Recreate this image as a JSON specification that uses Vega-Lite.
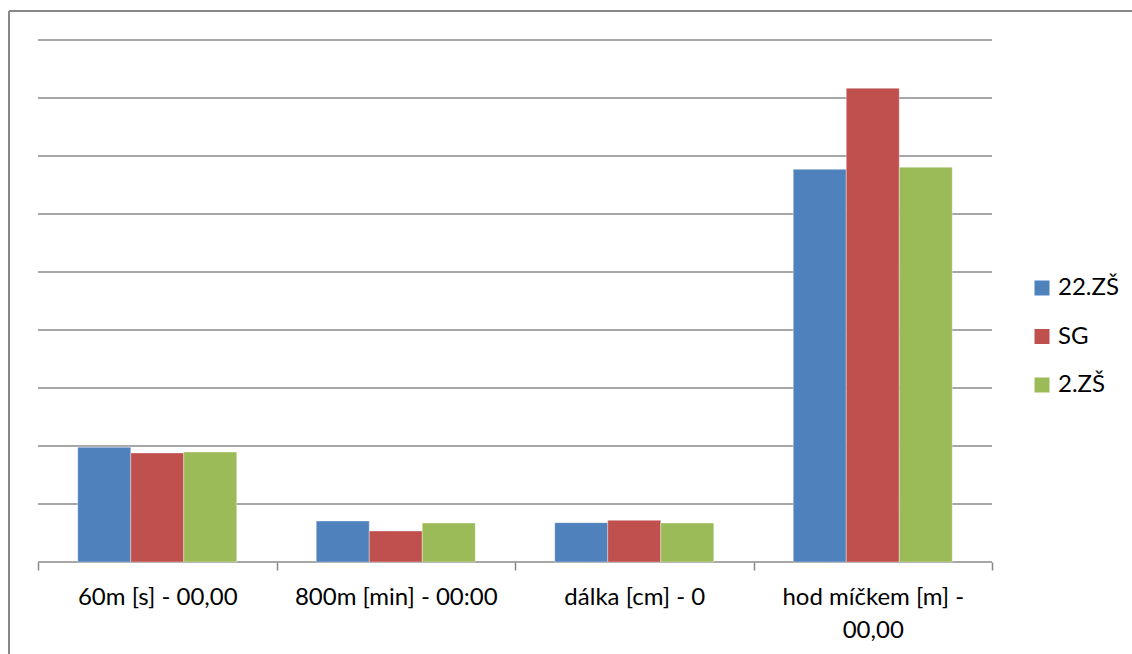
{
  "$schema": "https://vega.github.io/schema/vega-lite/v6.json",
  "width": 1123,
  "height": 643,
  "autosize": {"type": "none"},
  "padding": {"left": 9, "top": 11, "right": 0, "bottom": 0},
  "background": "white",
  "config": {
    "font": "Lato",
    "view": {"stroke": null},
    "axisY": {"disable": true}
  },
  "datasets": {
    "grid": [
      {"level": 0}, {"level": 5}, {"level": 10}, {"level": 15}, {"level": 20},
      {"level": 25}, {"level": 30}, {"level": 35}, {"level": 40}, {"level": 45}
    ],
    "scores": [
      {"test": "60m [s] - 00,00", "school": "22.ZŠ", "value": 9.9},
      {"test": "60m [s] - 00,00", "school": "SG", "value": 9.4},
      {"test": "60m [s] - 00,00", "school": "2.ZŠ", "value": 9.48},
      {"test": "800m [min] - 00:00", "school": "22.ZŠ", "value": 3.53},
      {"test": "800m [min] - 00:00", "school": "SG", "value": 2.67},
      {"test": "800m [min] - 00:00", "school": "2.ZŠ", "value": 3.36},
      {"test": "dálka [cm] - 0", "school": "22.ZŠ", "value": 3.39},
      {"test": "dálka [cm] - 0", "school": "SG", "value": 3.59},
      {"test": "dálka [cm] - 0", "school": "2.ZŠ", "value": 3.36},
      {"test": "hod míčkem [m] - 00,00", "school": "22.ZŠ", "value": 33.85},
      {"test": "hod míčkem [m] - 00,00", "school": "SG", "value": 40.84},
      {"test": "hod míčkem [m] - 00,00", "school": "2.ZŠ", "value": 34.03}
    ]
  },
  "layer": [
    {
      "description": "chart frame, top edge",
      "data": {"values": [{}]},
      "mark": {"type": "rule", "color": "#878787", "strokeWidth": 2},
      "encoding": {
        "x": {"datum": 0, "type": "quantitative", "scale": {"domain": [0, 1], "range": [0, 1123], "nice": false, "zero": false}, "axis": null},
        "x2": {"datum": 1},
        "y": {"datum": 1, "type": "quantitative", "scale": {"domain": [0, 1], "range": [643, 0], "nice": false, "zero": false}, "axis": null}
      }
    },
    {
      "description": "chart frame, left edge",
      "data": {"values": [{}]},
      "mark": {"type": "rule", "color": "#878787", "strokeWidth": 2},
      "encoding": {
        "x": {"datum": 0, "type": "quantitative", "scale": {"domain": [0, 1], "range": [0, 1123], "nice": false, "zero": false}, "axis": null},
        "x2": {"datum": 0},
        "y": {"datum": 0, "type": "quantitative", "scale": {"domain": [0, 1], "range": [643, 0], "nice": false, "zero": false}, "axis": null},
        "y2": {"datum": 1}
      }
    },
    {
      "data": {"name": "grid"},
      "mark": {"type": "rule", "color": "#8a8a8a", "strokeWidth": 1.5},
      "encoding": {
        "y": {
          "field": "level",
          "type": "quantitative",
          "scale": {"domain": [0, 45], "range": [551, 29]},
          "axis": null
        },
        "x": {
          "datum": 0,
          "type": "quantitative",
          "scale": {"domain": [0, 1], "range": [29, 983], "nice": false, "zero": false},
          "axis": null
        },
        "x2": {"datum": 1}
      }
    },
    {
      "data": {"name": "scores"},
      "mark": {"type": "bar", "stroke": "#ffffff", "strokeOpacity": 0.35, "strokeWidth": 1},
      "encoding": {
        "x": {
          "field": "test",
          "type": "nominal",
          "sort": ["60m [s] - 00,00", "800m [min] - 00:00", "dálka [cm] - 0", "hod míčkem [m] - 00,00"],
          "scale": {"range": [29, 983], "paddingInner": 0, "paddingOuter": 0},
          "axis": {
            "title": null,
            "orient": "bottom",
            "offset": -92,
            "domain": false,
            "grid": false,
            "tickBand": "extent",
            "tickSize": 8,
            "tickColor": "#878787",
            "tickWidth": 1.5,
            "labelAngle": 0,
            "labelFont": "Lato",
            "labelFontSize": 24,
            "labelColor": "#000000",
            "labelPadding": 15,
            "labelLineHeight": 33,
            "labelLimit": 400,
            "labelExpr": "datum.label == 'hod míčkem [m] - 00,00' ? ['hod míčkem [m] -', '00,00'] : datum.label"
          }
        },
        "xOffset": {
          "field": "school",
          "sort": ["22.ZŠ", "SG", "2.ZŠ"],
          "scale": {"paddingInner": 0, "paddingOuter": 0.75}
        },
        "y": {
          "field": "value",
          "type": "quantitative",
          "scale": {"domain": [0, 45], "range": [551, 29]},
          "axis": null
        },
        "color": {
          "field": "school",
          "type": "nominal",
          "sort": ["22.ZŠ", "SG", "2.ZŠ"],
          "scale": {"domain": ["22.ZŠ", "SG", "2.ZŠ"], "range": ["#4f81bd", "#c0504d", "#9bbb59"]},
          "legend": {
            "orient": "none",
            "legendX": 1021,
            "legendY": 265,
            "title": null,
            "symbolType": "square",
            "symbolSize": 225,
            "symbolStrokeWidth": 0,
            "symbolOpacity": 1,
            "labelFont": "Lato",
            "labelFontSize": 24,
            "labelColor": "#000000",
            "labelOffset": 4,
            "rowPadding": 24.5
          }
        }
      }
    }
  ],
  "resolve": {"scale": {"x": "independent", "y": "independent"}}
}
